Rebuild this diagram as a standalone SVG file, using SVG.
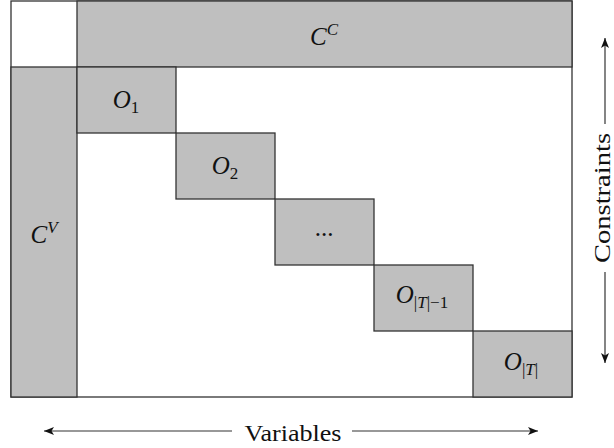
<svg xmlns="http://www.w3.org/2000/svg" width="614" height="448" viewBox="0 0 614 448">
<style>
.blk{fill:#bfbfbf;stroke:#333;stroke-width:1.3}
.frame{fill:none;stroke:#333;stroke-width:1.3}
.ln{stroke:#333;stroke-width:1.2;fill:none}
text{font-family:'Liberation Serif','DejaVu Serif',serif;fill:#111}
.m{font-size:25px}
.i{font-style:italic}
.s{font-size:17px}
.lbl{font-size:23px}
</style>
<defs>
<marker id="ah" viewBox="0 0 10 8" refX="10" refY="4" markerWidth="10" markerHeight="8" markerUnits="userSpaceOnUse" orient="auto">
<path d="M0,0 L10,4 L0,8 L2.5,4 Z" fill="#111"/>
</marker>
</defs>
<rect class="frame" x="11" y="1" width="561" height="396"/>
<g id="CC"><rect class="blk" x="77" y="1" width="495" height="66"/>
<text class="m" x="324" y="45" text-anchor="middle"><tspan class="i">C</tspan><tspan class="i s" dy="-10">C</tspan></text></g>
<g id="CV"><rect class="blk" x="11" y="67" width="66" height="330"/>
<text class="m" x="44" y="243" text-anchor="middle"><tspan class="i">C</tspan><tspan class="i s" dy="-10">V</tspan></text></g>
<g id="O1"><rect class="blk" x="77" y="67" width="99" height="66"/>
<text class="m" x="126" y="108" text-anchor="middle"><tspan class="i">O</tspan><tspan class="s" dy="5">1</tspan></text></g>
<g id="O2"><rect class="blk" x="176" y="133" width="99" height="66"/>
<text class="m" x="225" y="174" text-anchor="middle"><tspan class="i">O</tspan><tspan class="s" dy="5">2</tspan></text></g>
<g id="Odots"><rect class="blk" x="275" y="199" width="99" height="66"/>
<text class="m" x="324" y="236" text-anchor="middle">...</text></g>
<g id="OT1"><rect class="blk" x="374" y="265" width="99" height="66"/>
<text class="m" x="422" y="303" text-anchor="middle"><tspan class="i">O</tspan><tspan class="s" dy="5">|<tspan class="i">T</tspan>|−1</tspan></text></g>
<g id="OT"><rect class="blk" x="473" y="331" width="99" height="66"/>
<text class="m" x="521" y="370" text-anchor="middle"><tspan class="i">O</tspan><tspan class="s" dy="5">|<tspan class="i">T</tspan>|</tspan></text></g>
<g id="connectors">
<line class="ln" x1="232" y1="431" x2="44" y2="431" marker-end="url(#ah)"/>
<line class="ln" x1="352" y1="431" x2="538" y2="431" marker-end="url(#ah)"/>
<line class="ln" x1="605" y1="124" x2="605" y2="38" marker-end="url(#ah)"/>
<line class="ln" x1="605" y1="272" x2="605" y2="363" marker-end="url(#ah)"/>
</g>
<text class="lbl" x="293" y="441" text-anchor="middle" textLength="97" lengthAdjust="spacingAndGlyphs">Variables</text>
<text class="lbl" transform="translate(610,198) rotate(-90)" x="0" y="0" text-anchor="middle" textLength="130" lengthAdjust="spacingAndGlyphs">Constraints</text>
</svg>
